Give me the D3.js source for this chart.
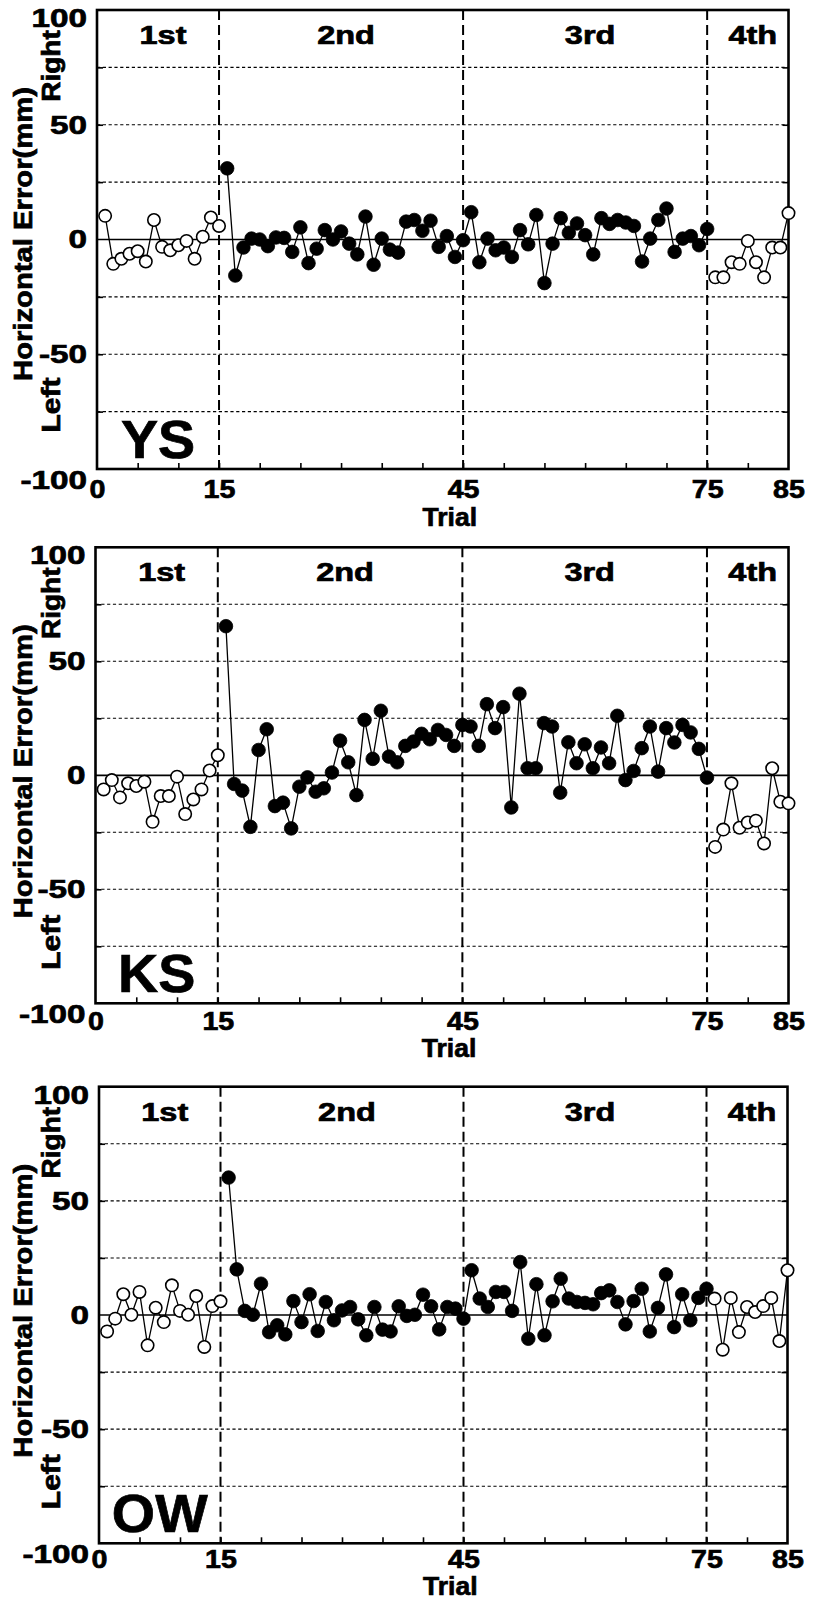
<!DOCTYPE html>
<html>
<head>
<meta charset="utf-8">
<script src="https://cdn.jsdelivr.net/npm/d3@7"></script>
<style>
  html, body { margin: 0; padding: 0; background: #fff; }
  svg { display: block; }
</style>
</head>
<body>
<svg id="chart" width="814" height="1603"></svg>
<script>
// ---- data -------------------------------------------------------------
const trialCount = 85;
const sessionBreaks = [15, 45, 75];
const sessionNames = ["1st", "2nd", "3rd", "4th"];
const sessionBounds = [0, 15, 45, 75, 85];
const yTickLabels = [-100, -50, 0, 50, 100];
const gridLevels = [-75, -50, -25, 25, 50, 75];
const xTickLabels = [0, 15, 45, 75, 85];
const subjectNames = ["YS", "KS", "OW"];

// horizontal error (mm), trials 1-15 (open), 16-75 (filled), 76-85 (open)
const ysPre = [10.3, -10.6, -8.4, -6.2, -5.1, -9.6, 8.5, -3.2, -4.7, -2.5, -0.6, -8.4, 1.2, 9.6, 5.9];
const ysTrain = [31, -15.7, -3.5, 0.4, 0, -2.9, 0.9, 0.7, -5.4, 5.3, -10.3, -4, 4.1, 0, 3.5,
  -1.8, -6.5, 10, -11, 0.4, -4.4, -5.7, 7.8, 8.5, 3.8, 8.2, -3.2, 1.5, -7.6, -0.3,
  11.9, -9.9, 0.4, -4.7, -3.5, -7.6, 4.1, -2.1, 10.7, -19, -1.8, 9.3, 2.9, 7, 1.9,
  -6.5, 9.3, 6.8, 8.5, 7.4, 5.9, -9.6, 0.4, 8.5, 13.5, -5.4, 0.4, 1.5, -2.5, 4.6];
const ysPost = [-16.5, -16.5, -9.9, -10.6, -0.6, -9.9, -16.5, -3.5, -3.5, 11.5];

const ksPre = [-6.2, -2.1, -9.7, -3.5, -4.7, -2.8, -20.4, -9.1, -9.1, -0.6, -17, -10.6, -6.2, 2.1, 8.8];
const ksTrain = [65.4, -3.8, -6.7, -22.6, 11.1, 20.2, -13.5, -12, -23.3, -5, -0.9, -7.2, -5.7, 1.2, 15.2,
  5.7, -8.7, 24.3, 7.2, 28.3, 8.2, 5.7, 12.9, 14.8, 18.2, 15.8, 19.9, 17.7, 12.9, 22.1,
  21.4, 12.9, 31.2, 20.7, 29.9, -14.1, 35.8, 3.1, 3.1, 22.9, 21.4, -7.6, 14.5, 5.3, 13.6,
  3.1, 12.2, 5.3, 26.1, -2.1, 1.9, 11.9, 21.4, 1.6, 20.7, 14.4, 22.1, 18.8, 11.6, -1.0];
const ksPost = [-31.4, -23.8, -3.5, -23, -20.7, -19.9, -29.9, 3.1, -11.6, -12.3];

const owPre = [-7.2, -1.6, 9.1, 0.1, 10.1, -13.3, 3.2, -3.1, 13, 1.8, 0.1, 8.3, -14, 3.9, 6];
const owTrain = [60.2, 20, 1.8, 0.1, 13.7, -7.5, -4.5, -8.5, 6.1, -3.1, 9.1, -7, 5.7, -2.3, 2,
  3.5, -1.9, -8.9, 3.5, -6.4, -7.2, 3.8, -0.4, 0.1, 8.9, 3.8, -6.3, 3.5, 2.8, -1.6,
  19.6, 7.2, 3.5, 10.1, 10.1, 1.8, 23.2, -10.4, 13.5, -8.9, 6, 15.9, 7.2, 5.7, 5.3,
  4.7, 9.6, 10.8, 5.7, -4.1, 6.1, 11.5, -7.2, 3.1, 17.8, -5.3, 9.1, -2.3, 7.5, 11.5];
const owPost = [7.2, -15.2, 7.5, -7.5, 3.5, 1.3, 3.9, 7.5, -11.4, 19.6];

const subjectSeries = [
  [ysPre, ysTrain, ysPost],
  [ksPre, ksTrain, ksPost],
  [owPre, owTrain, owPost]
];

// ---- layout -----------------------------------------------------------
const frames = [
  { left: 97,   right: 788.5, top: 10,     bottom: 469,    labelPad: 11, trialY: 49 },
  { left: 95.5, right: 788.5, top: 547.3,  bottom: 1003.3, labelPad: 8,  trialY: 46 },
  { left: 99,   right: 787.5, top: 1086.7, bottom: 1543.3, labelPad: 6,  trialY: 44 }
];
const FONT = '"Liberation Sans", Arial, Helvetica, sans-serif';
const TEXT_STROKE = 0.7;

const svg = d3.select("#chart");

// text helper with horizontal stretch about its anchor point
function addText(parent, str, px, py, size, sx, anchor, rotate) {
  const rot = rotate ? ` rotate(${rotate})` : "";
  return parent.append("text")
    .attr("transform", `translate(${px},${py})${rot} scale(${sx},1)`)
    .attr("text-anchor", anchor)
    .attr("font-family", FONT)
    .attr("font-weight", "bold")
    .attr("font-size", size)
    .attr("fill", "#000")
    .attr("stroke", "#000")
    .attr("stroke-width", TEXT_STROKE)
    .text(str);
}

function styleLabels(sel, size) {
  sel.attr("font-family", FONT).attr("font-weight", "bold")
    .attr("font-size", size).attr("fill", "#000")
    .attr("stroke", "#000").attr("stroke-width", TEXT_STROKE);
}

subjectNames.forEach((name, i) => {
  const f = frames[i];
  const [pre, train, post] = subjectSeries[i];

  const x = d3.scaleLinear().domain([0, trialCount]).range([f.left, f.right]);
  const y = d3.scaleLinear().domain([-100, 100]).range([f.bottom, f.top]);
  const g = svg.append("g").attr("class", "panel-" + name);

  // dotted horizontal grid
  g.append("g").selectAll("line").data(gridLevels).join("line")
    .attr("x1", f.left).attr("x2", f.right)
    .attr("y1", d => y(d)).attr("y2", d => y(d))
    .attr("stroke", "#000").attr("stroke-width", 1.1)
    .attr("stroke-dasharray", "3.2,2.6");

  // zero reference
  g.append("line")
    .attr("x1", f.left).attr("x2", f.right)
    .attr("y1", y(0)).attr("y2", y(0))
    .attr("stroke", "#000").attr("stroke-width", 1.7);

  // session boundaries
  g.append("g").selectAll("line").data(sessionBreaks).join("line")
    .attr("x1", d => x(d)).attr("x2", d => x(d))
    .attr("y1", f.top).attr("y2", f.bottom)
    .attr("stroke", "#000").attr("stroke-width", 2)
    .attr("stroke-dasharray", "10,5");

  // inward tick marks
  const tickStyle = sel => {
    sel.select(".domain").remove();
    sel.selectAll("line").attr("stroke", "#000").attr("stroke-width", 1.6);
  };
  g.append("g").attr("transform", `translate(0,${f.bottom})`)
    .call(d3.axisBottom(x).tickValues(d3.range(5, trialCount, 5)).tickSize(-6).tickFormat(""))
    .call(tickStyle);
  g.append("g").attr("transform", `translate(${f.left},0)`)
    .call(d3.axisLeft(y).tickValues(gridLevels).tickSize(-6).tickFormat(""))
    .call(tickStyle);
  g.append("g").attr("transform", `translate(${f.right},0)`)
    .call(d3.axisRight(y).tickValues(gridLevels).tickSize(-6).tickFormat(""))
    .call(tickStyle);

  // y tick labels
  const ySx = 1.28, yPad = 10;
  const yAxisG = g.append("g").attr("transform", `translate(${f.left},0)`)
    .call(d3.axisLeft(y).tickValues(yTickLabels).tickSize(0).tickPadding(yPad).tickFormat(d => String(d)));
  yAxisG.select(".domain").remove();
  yAxisG.selectAll("text")
    .call(styleLabels, 26)
    .attr("x", -yPad / ySx)
    .attr("y", d => d === 100 ? 8 : d === -100 ? 11 : 0)
    .attr("transform", `scale(${ySx},1)`);

  // x tick labels
  const xAxisG = g.append("g").attr("transform", `translate(0,${f.bottom})`)
    .call(d3.axisBottom(x).tickValues(xTickLabels).tickSize(0).tickPadding(f.labelPad).tickFormat(d => String(d)));
  xAxisG.select(".domain").remove();
  xAxisG.selectAll("text")
    .call(styleLabels, 26)
    .attr("transform", `scale(1.1,1)`);

  // axis titles
  addText(g, "Trial", (f.left + f.right) / 2 + 7, f.bottom + f.trialY + 8, 26, 1.02, "middle");
  addText(g, "Horizontal Error(mm)", 32, f.top + 224, 25, 1.17, "middle", -90);
  addText(g, "Right", 60, f.top + 56, 25, 1.12, "middle", -90);
  addText(g, "Left", 60, f.top + 395, 25, 1.2, "middle", -90);

  // session headers
  sessionNames.forEach((s, k) => {
    const cx = x((sessionBounds[k] + sessionBounds[k + 1]) / 2) + 5;
    addText(g, s, cx, f.top + 34, 26, 1.25, "middle");
  });

  // subject name
  addText(g, name, x(7.5), f.bottom - 11, 53, 1.05, "middle");

  // frame
  g.append("rect")
    .attr("x", f.left).attr("y", f.top)
    .attr("width", f.right - f.left).attr("height", f.bottom - f.top)
    .attr("fill", "none").attr("stroke", "#000").attr("stroke-width", 2.6);

  // series: pre (open), training (filled), post (open)
  const segments = [
    { vals: pre,   start: 1,  open: true },
    { vals: train, start: 16, open: false },
    { vals: post,  start: 76, open: true }
  ];
  const line = d3.line().x(d => x(d.t)).y(d => y(d.v));
  segments.forEach(seg => {
    const pts = seg.vals.map((v, j) => ({ t: seg.start + j, v }));
    g.append("path").datum(pts)
      .attr("d", line).attr("fill", "none")
      .attr("stroke", "#000").attr("stroke-width", 1.3);
    g.append("g").selectAll("circle").data(pts).join("circle")
      .attr("cx", d => x(d.t)).attr("cy", d => y(d.v))
      .attr("r", seg.open ? 6.2 : 6.8)
      .attr("fill", seg.open ? "#fff" : "#000")
      .attr("stroke", "#000").attr("stroke-width", seg.open ? 1.6 : 0.8);
  });
});
</script>
</body>
</html>
